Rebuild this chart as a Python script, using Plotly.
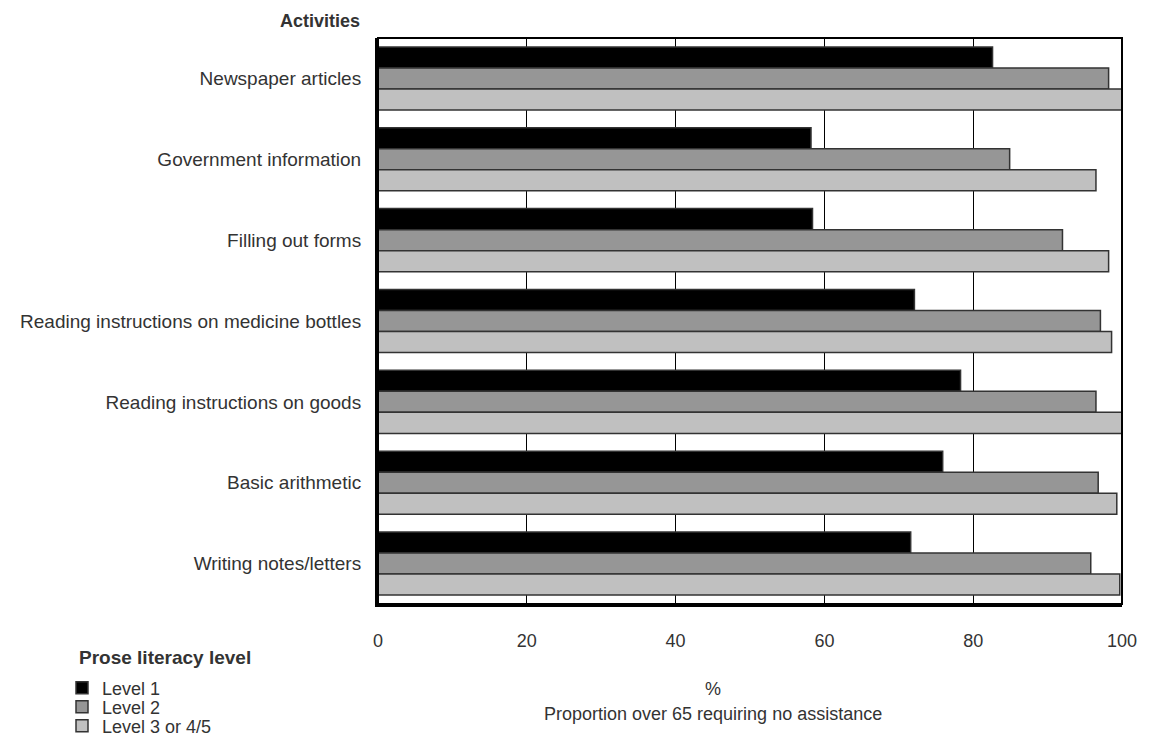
import plotly.graph_objects as go

activities = [
    "Newspaper articles",
    "Government information",
    "Filling out forms",
    "Reading instructions on medicine bottles",
    "Reading instructions on goods",
    "Basic arithmetic",
    "Writing notes/letters",
]
level1 = [82.6, 58.2, 58.4, 72.1, 78.3, 75.9, 71.6]
level2 = [98.2, 84.9, 92.0, 97.1, 96.5, 96.8, 95.8]
level3 = [100.0, 96.5, 98.2, 98.6, 100.0, 99.3, 99.7]
series_names = ["Level 1", "Level 2", "Level 3 or 4/5"]
series_colors = ["#000000", "#969696", "#c0c0c0"]
x_ticks = [0, 20, 40, 60, 80, 100]

W, H = 1150, 750
L, R, T, B = 378, 28, 38, 146
PW, PH = W - L - R, H - T - B


def px_x(x):
    return (x - L) / PW


def px_y(y):
    return (H - B - y) / PH


FONT = "Liberation Sans, Arial, sans-serif"
TXT = "#333333"

fig = go.Figure()
legend_ids = ["legend", "legend2", "legend3"]
for vals, name, col, lg in zip([level1, level2, level3], series_names, series_colors, legend_ids):
    fig.add_trace(go.Bar(
        y=activities, x=vals, name=name, orientation="h",
        marker=dict(color=col, line=dict(color="#333333", width=1.5)),
        legend=lg, showlegend=True,
    ))

legend_rows = [688, 707, 726]
common_legend = dict(
    x=px_x(62), xanchor="left", yanchor="middle",
    font=dict(family=FONT, size=18, color=TXT),
    bgcolor="rgba(0,0,0,0)", borderwidth=0, visible=True,
)
fig.update_layout(
    width=W, height=H,
    margin=dict(l=L, r=R, t=T, b=B, autoexpand=False),
    paper_bgcolor="white", plot_bgcolor="white",
    barmode="group", bargap=0.22, bargroupgap=0,
    showlegend=True,
    font=dict(family=FONT, size=18, color=TXT),
    legend=dict(y=px_y(legend_rows[0]), **common_legend),
    legend2=dict(y=px_y(legend_rows[1]), **common_legend),
    legend3=dict(y=px_y(legend_rows[2]), **common_legend),
    xaxis=dict(
        range=[0, 100], tickvals=x_ticks, ticktext=[str(v) for v in x_ticks],
        showgrid=True, gridcolor="#000000", gridwidth=1,
        showline=True, linecolor="#000000", linewidth=3,
        zeroline=False, ticks="", ticklabelstandoff=18, automargin=False,
        tickfont=dict(family=FONT, size=18, color=TXT),
    ),
    yaxis=dict(
        type="category", autorange="reversed",
        showgrid=False, showline=True, linecolor="#000000", linewidth=3,
        ticks="", ticklabelstandoff=10, automargin=False,
        tickfont=dict(family=FONT, size=19, color=TXT),
    ),
    shapes=[dict(type="rect", xref="paper", yref="paper", x0=0, x1=1, y0=0, y1=1,
                 line=dict(color="#000000", width=2), layer="above")],
    annotations=[
        dict(text="<b>Activities</b>", x=px_x(362), y=px_y(21), xref="paper", yref="paper",
             xanchor="right", yanchor="middle", showarrow=False,
             font=dict(family=FONT, size=18, color=TXT)),
        dict(text="<b>Prose literacy level</b>", x=px_x(77), y=px_y(657), xref="paper", yref="paper",
             xanchor="left", yanchor="middle", showarrow=False,
             font=dict(family=FONT, size=19, color=TXT)),
        dict(text="%", x=px_x(713), y=px_y(689), xref="paper", yref="paper",
             xanchor="center", yanchor="middle", showarrow=False,
             font=dict(family=FONT, size=18, color=TXT)),
        dict(text="Proportion over 65 requiring no assistance", x=px_x(713), y=px_y(714),
             xref="paper", yref="paper", xanchor="center", yanchor="middle", showarrow=False,
             font=dict(family=FONT, size=18, color=TXT)),
    ],
)

fig.write_html("out.html", config={"displayModeBar": False},
               post_script="document.body.style.margin='0px';")
